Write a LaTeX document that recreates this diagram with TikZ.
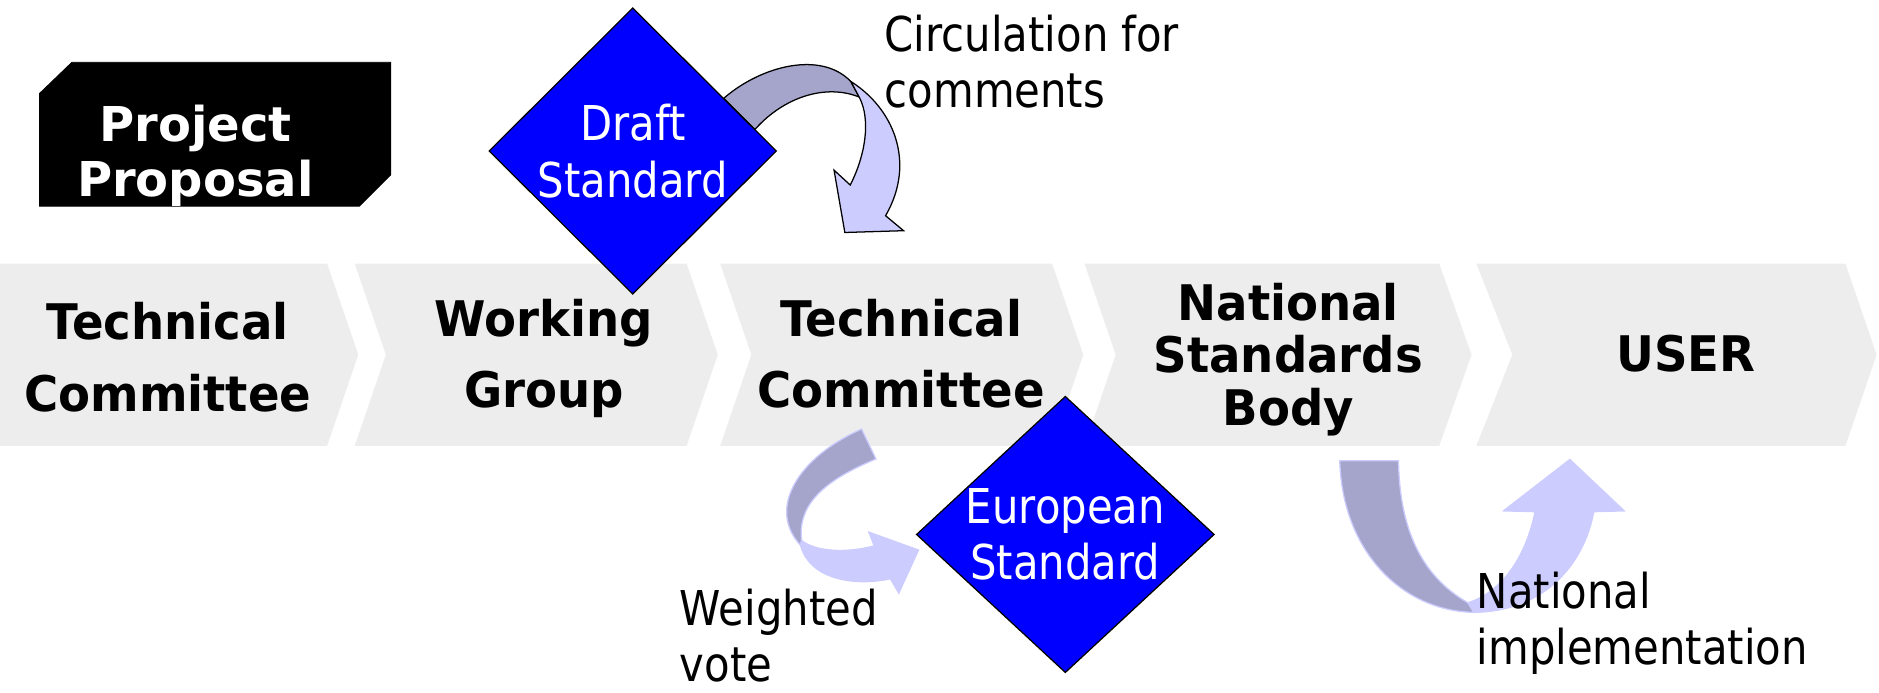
\documentclass[tikz,border=0pt]{standalone}
\usepackage{fontspec}
\usepackage{tikz}
\usepackage{color}
\usetikzlibrary{shapes.geometric}

\newfontfamily\stepfont{DejaVu Sans}[FakeStretch=0.95]
\newfontfamily\propfont{DejaVu Sans}
\newfontfamily\notefont{DejaVu Sans}[FakeStretch=0.87]

\definecolor{stepgray}{RGB}{237,237,237}
\definecolor{stdblue}{RGB}{0,0,255}
\definecolor{arrowdark}{RGB}{165,165,204}
\definecolor{arrowlight}{RGB}{204,204,255}

\begin{document}
\begin{tikzpicture}[%
      x=0.02cm, y=-0.02cm,
      steptext/.style={align=center, inner sep=0pt,
        font=\stepfont\bfseries\fontsize{23.3}{34}\selectfont},
      stddiamond/.style={diamond, draw=black, fill=stdblue, line width=0.6pt,
        inner sep=0pt, align=center, text=white,
        font=\notefont\fontsize{22.8}{26.7}\selectfont},
      notetext/.style={align=left, inner sep=0pt, anchor=north west,
        font=\notefont\fontsize{22.8}{26.7}\selectfont},
      ]
      \useasboundingbox (0,0) rectangle (1568,577.5);

      % project proposal tag
      \filldraw [color=black] (33,78) -- (60,52) -- (326,52) -- (326,146) -- (300,172) -- (33,172) -- cycle;
      \node [text=white, align=center, inner sep=0pt,
        font=\propfont\bfseries\fontsize{22.8}{26.2}\selectfont] (proposal) at (163,130) {Project\\Proposal};

      % process chevrons
      \fill [color=stepgray] (0,220) -- (273,220) -- (299,296) -- (273,372) -- (0,372) -- cycle;
      \fill [color=stepgray] (296,220) -- (573,220) -- (599,296) -- (573,372) -- (296,372) -- (322,296) -- cycle;
      \fill [color=stepgray] (601,220) -- (878,220) -- (904,296) -- (878,372) -- (601,372) -- (627,296) -- cycle;
      \fill [color=stepgray] (905,220) -- (1201,220) -- (1228,296) -- (1201,372) -- (905,372) -- (931,296) -- cycle;
      \fill [color=stepgray] (1232,220) -- (1540,220) -- (1566,296) -- (1540,372) -- (1232,372) -- (1262,296) -- cycle;

      \node [steptext] (tc1) at (140,298) {Technical\\Committee};
      \node [steptext] (wg) at (454,299) {Working\\Group};
      \node [steptext] (tc2) at (752,295) {Technical\\Committee};
      \node [steptext, font=\stepfont\bfseries\fontsize{23.3}{25}\selectfont] (nsb) at (1075,300) {National\\Standards\\Body};
      \node [steptext] (user) at (1407,295) {USER};

      % circulation arrow
      \filldraw [fill=arrowdark, draw=black, line width=0.6pt] (604,82) .. controls (635,55) and (685,42) .. (710,68)
        -- (717,81) .. controls (690,70) and (655,80) .. (630,108) -- cycle;
      \filldraw [fill=arrowlight, draw=black, line width=0.6pt] (710,68) .. controls (745,90) and (765,135) .. (739,180)
        -- (754,192.5) -- (705,194) -- (696,142) -- (709.5,154.4) .. controls (722,130) and (727,100) .. (717,81) -- cycle;

      % vote arrow
      \filldraw [fill=arrowdark, draw=arrowlight, line width=0.6pt] (719,358) .. controls (665,382) and (640,425) .. (668,455)
        -- (669,451) .. controls (665,420) and (690,400) .. (731,383) -- cycle;
      \filldraw [fill=arrowlight, draw=arrowlight, line width=0.6pt] (668,455) .. controls (675,482) and (710,490) .. (743,483)
        -- (750,495) -- (766.5,459) -- (725,444) -- (729.5,455.5) .. controls (705,462) and (680,460) .. (669,451) -- cycle;

      % implementation arrow
      \filldraw [fill=arrowdark, draw=arrowlight, line width=0.6pt] (1118,384.5) -- (1167,384.5)
        .. controls (1168,440) and (1185,480) .. (1225,503) -- (1230,511)
        .. controls (1170,510) and (1120,460) .. (1118,384.5) -- cycle;
      \filldraw [fill=arrowlight, draw=arrowlight, line width=0.6pt] (1225,503) .. controls (1250,495) and (1272,470) .. (1281,427)
        -- (1254.6,426.3) -- (1310,383.4) -- (1355.4,426.3) -- (1330,427)
        .. controls (1322,470) and (1290,510) .. (1230,511) -- cycle;

      % standards
      \node [stddiamond, minimum width=4.8cm, minimum height=4.78cm] (draft) at (528,126) {Draft\\Standard};
      \node [stddiamond, shape aspect=1.078, minimum width=4.96cm, minimum height=4.6cm] (en) at (889,446) {European\\Standard};

      \node [notetext] (circ) at (738,12) {Circulation for\\comments};
      \node [notetext] (vote) at (567,491) {Weighted\\vote};
      \node [notetext] (impl) at (1232,477) {National\\implementation};
\end{tikzpicture}
\end{document}
